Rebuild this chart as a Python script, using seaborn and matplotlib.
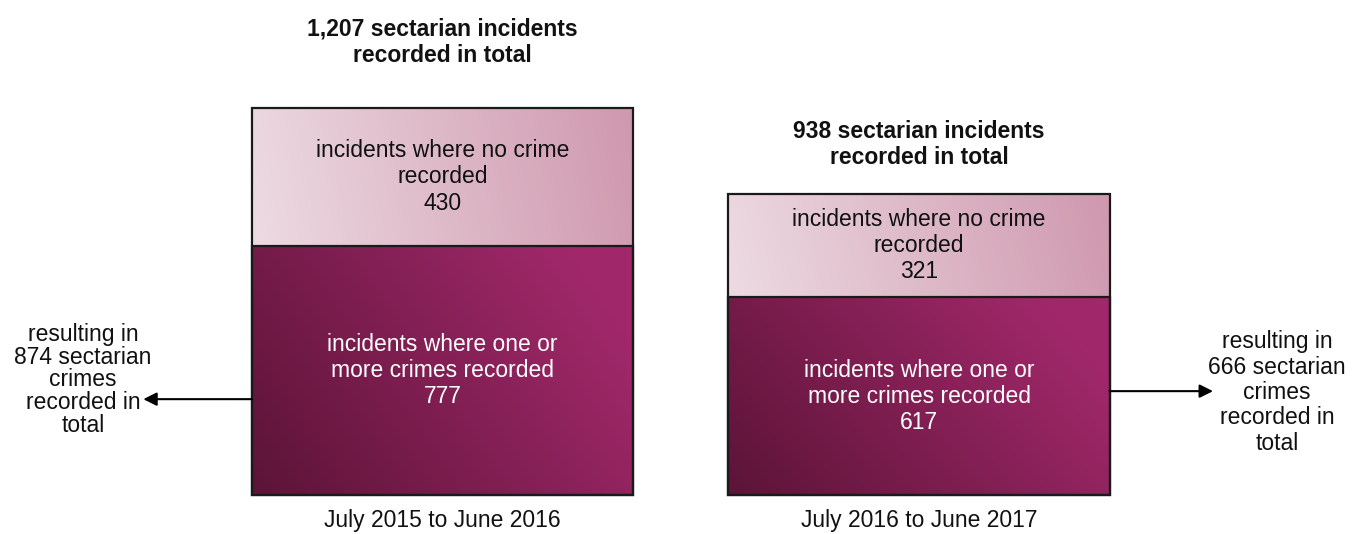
import numpy as np
import matplotlib
matplotlib.use("Agg")
import matplotlib.pyplot as plt
import seaborn as sns
from matplotlib.colors import to_rgb

# ---- data ----
periods = ["July 2015 to June 2016", "July 2016 to June 2017"]
crime_incidents = [777, 617]
no_crime_incidents = [430, 321]
crimes_recorded = [874, 666]
total_incidents = [a + b for a, b in zip(crime_incidents, no_crime_incidents)]

sns.set_theme(style="white")
plt.rcParams["font.family"] = ["Liberation Sans", "DejaVu Sans"]

fig = plt.figure(figsize=(13.53, 5.34), dpi=100)
ax = fig.add_axes([0, 0, 1, 1])

sns.barplot(x=periods, y=total_incidents, color="#e0c0cc", width=0.8, ax=ax)
n_light = len(ax.patches)
sns.barplot(x=periods, y=crime_incidents, color="#85224f", width=0.8, ax=ax)
light_bars = ax.patches[:n_light]
dark_bars = ax.patches[n_light:]


def gradient(c0, c1, wx, wy, n=200):
    u = np.linspace(0, 1, n)
    U, V = np.meshgrid(u, u)
    t = np.clip(wx * U + wy * V, 0, 1)[..., None]
    a = np.array(to_rgb(c0))
    b = np.array(to_rgb(c1))
    return a + (b - a) * t


def fill(patch, img, z):
    x0 = patch.get_x()
    w = patch.get_width()
    y0 = patch.get_y()
    h = patch.get_height()
    im = ax.imshow(img, extent=[x0, x0 + w, y0, y0 + h], origin="lower",
                   aspect="auto", zorder=z, interpolation="bilinear")
    im.set_clip_path(patch)
    patch.set_facecolor("none")
    patch.set_edgecolor("#1a1a1a")
    patch.set_linewidth(1.6)
    patch.set_zorder(3)


light_img = gradient("#f0e2e8", "#cf98ae", 0.85, 0.15)
dark_img = gradient("#5c1437", "#a0286a", 0.8, 0.35)
for p in light_bars:
    fill(p, light_img, 1)
for p in dark_bars:
    fill(p, dark_img, 2)

ax.set_xlim(-0.9287, 1.9108)
ax.set_ylim(-121.6, 1544)
ax.axis("off")

fs = 16.5
# segment labels
for i in range(len(periods)):
    ax.text(i, crime_incidents[i] + no_crime_incidents[i] / 2,
            f"incidents where no crime\nrecorded\n{no_crime_incidents[i]}",
            ha="center", va="center", fontsize=fs, color="#111111",
            linespacing=1.17, zorder=4)
    ax.text(i, crime_incidents[i] / 2,
            f"incidents where one or\nmore crimes recorded\n{crime_incidents[i]}",
            ha="center", va="center", fontsize=fs, color="white",
            linespacing=1.17, zorder=4)
    ax.text(i, -81, periods[i], ha="center", va="center", fontsize=fs,
            color="#111111")

# titles
title_y = [1413, 1093]
for i in range(len(periods)):
    ax.text(i, title_y[i], f"{total_incidents[i]:,} sectarian incidents\nrecorded in total",
            ha="center", va="center", fontsize=fs, fontweight="bold",
            color="#111111", linespacing=1.19)

# side annotations
left = light_bars[0]
right = light_bars[1]
ax.annotate("", xy=(-0.628, 299), xytext=(left.get_x(), 299),
            arrowprops=dict(arrowstyle="-|>", lw=1.5, color="black", mutation_scale=20,
                            shrinkA=0, shrinkB=0))
ax.text(-0.7545, 359, f"resulting in\n{crimes_recorded[0]} sectarian\ncrimes\nrecorded in\ntotal",
        ha="center", va="center", fontsize=fs, color="#111111", linespacing=0.98)

ax.annotate("", xy=(1.617, 324), xytext=(right.get_x() + right.get_width(), 324),
            arrowprops=dict(arrowstyle="-|>", lw=1.5, color="black", mutation_scale=20,
                            shrinkA=0, shrinkB=0))
ax.text(1.7513, 320, f"resulting in\n{crimes_recorded[1]} sectarian\ncrimes\nrecorded in\ntotal",
        ha="center", va="center", fontsize=fs, color="#111111", linespacing=1.13)

fig.savefig("out.png", dpi=100, facecolor="white")
